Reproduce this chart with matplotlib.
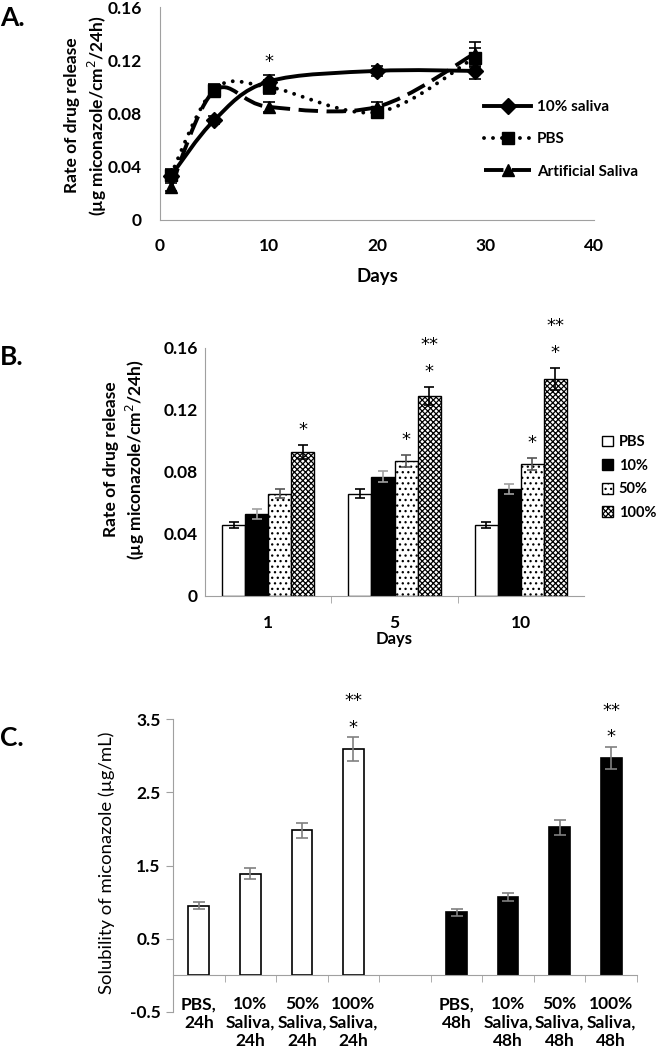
import matplotlib
matplotlib.use("Agg")
import matplotlib.pyplot as plt
import numpy as np
from matplotlib.path import Path
from matplotlib.patches import PathPatch
from matplotlib.lines import Line2D

plt.rcParams['font.family'] = ['Lato', 'DejaVu Sans']
plt.rcParams['hatch.linewidth'] = 0.9

# ---- panel A : release rate vs days ----
days_a = [1, 5, 10, 20, 29]
sal10_a = [0.033, 0.075, 0.104, 0.112, 0.112]
sal10_a_err = [0.003, 0.003, 0.005, 0.004, 0.006]
pbs_a = [0.034, 0.098, 0.100, 0.081, 0.122]
pbs_a_err = [0.004, 0.004, 0.005, 0.004, 0.007]
art_a = [0.025, 0.097, 0.085, 0.085, 0.125]
art_a_err = [0.003, 0.004, 0.004, 0.004, 0.009]
a_yticks = [0, 0.04, 0.08, 0.12, 0.16]
a_yticklabels = ["0", "0.04", "0.08", "0.12", "0.16"]
a_xticks = [0, 10, 20, 30, 40]

# ---- panel B : release rate per saliva level ----
b_days = ["1", "5", "10"]
b_groups = ["PBS", "10%", "50%", "100%"]
b_vals = [[0.046, 0.066, 0.046],
          [0.053, 0.077, 0.069],
          [0.066, 0.087, 0.085],
          [0.093, 0.129, 0.140]]
b_errs = [[0.002, 0.003, 0.002],
          [0.003, 0.0035, 0.003],
          [0.003, 0.004, 0.004],
          [0.0045, 0.006, 0.007]]
# significance marks: (group, day, text)
b_marks = [(3, 0, "*"), (2, 1, "*"), (3, 1, "*"), (3, 1, "**"),
           (2, 2, "*"), (3, 2, "*"), (3, 2, "**")]

# ---- panel C : solubility ----
c_labels = ["PBS,\n24h", "10%\nSaliva,\n24h", "50%\nSaliva,\n24h", "100%\nSaliva,\n24h", "",
            "PBS,\n48h", "10%\nSaliva,\n48h", "50%\nSaliva,\n48h", "100%\nSaliva,\n48h"]
c_24h = [0.95, 1.39, 1.98, 3.09]
c_24h_err = [0.05, 0.07, 0.10, 0.16]
c_48h = [0.86, 1.07, 2.02, 2.97]
c_48h_err = [0.05, 0.06, 0.10, 0.15]
c_yticks = [-0.5, 0.5, 1.5, 2.5, 3.5]
c_yticklabels = ["-0.5", "0.5", "1.5", "2.5", "3.5"]

GREY = "#a0a0a0"
STAR = dict(family="DejaVu Sans", fontsize=13, ha="center", va="center")


def smooth_line(ax, x, y, **kw):
    # Excel style smoothed line: cubic bezier segments through the points
    x = np.asarray(x, float)
    y = np.asarray(y, float)
    px = np.r_[x[0], x, x[-1]]
    py = np.r_[y[0], y, y[-1]]
    verts = [(x[0], y[0])]
    codes = [Path.MOVETO]
    for i in range(len(x) - 1):
        c1 = (x[i] + (px[i + 2] - px[i]) / 6, y[i] + (py[i + 2] - py[i]) / 6)
        c2 = (x[i + 1] - (px[i + 3] - px[i + 1]) / 6, y[i + 1] - (py[i + 3] - py[i + 1]) / 6)
        verts += [c1, c2, (x[i + 1], y[i + 1])]
        codes += [Path.CURVE4] * 3
    ax.add_patch(PathPatch(Path(verts, codes), fill=False, **kw))


def grey_axes(ax):
    for s in ["top", "right"]:
        ax.spines[s].set_visible(False)
    for s in ["left", "bottom"]:
        ax.spines[s].set_color(GREY)
    for t in ax.get_xticklabels() + ax.get_yticklabels():
        t.set_fontweight("bold")


fig = plt.figure(figsize=(6.56, 10.5), dpi=100)

# ================= A =================
axA = fig.add_axes([160 / 656, 1 - 220 / 1050, 434 / 656, 213 / 1050])
series = [(sal10_a, sal10_a_err, "D", "-", "round", "10% saliva", 8),
          (pbs_a, pbs_a_err, "s", (0, (0.01, 2.3)), "round", "PBS", 9),
          (art_a, art_a_err, "^", (0, (5, 2.2)), "butt", "Artificial Saliva", 9)]
handles = []
for vals, errs, mk, ls, cap, lab, ms in series:
    smooth_line(axA, days_a, vals, color="black", lw=2.8, linestyle=ls, capstyle=cap)
    axA.errorbar(days_a, vals, yerr=errs, fmt="none", ecolor="black",
                 elinewidth=1.2, capsize=4, capthick=1.2)
    axA.plot(days_a, vals, linestyle="none", marker=mk, ms=ms, color="black")
    handles.append(Line2D([], [], color="black", lw=2.8, linestyle=ls,
                          marker=mk, ms=ms, dash_capstyle=cap))
axA.text(days_a[2], 0.1185, "*", **STAR)
axA.set_xlim(0, 40)
axA.set_ylim(0, 0.16)
axA.set_xticks(a_xticks)
axA.set_yticks(a_yticks)
axA.set_yticklabels(a_yticklabels)
axA.tick_params(length=0, labelsize=12.5, pad=13)
grey_axes(axA)
axA.set_xlabel("Days", fontsize=13.5, fontweight="bold")
axA.xaxis.set_label_coords(0.5, -0.225)
axA.set_ylabel("Rate of drug release\n(µg miconazole/cm$^{2}$/24h)", fontsize=12.5,
               fontweight="bold", linespacing=1.3)
axA.yaxis.set_label_coords(-0.118, 0.49)
leg = axA.legend(handles, [s[5] for s in series], loc="upper left",
                 bbox_to_anchor=(484 / 656, 1 - 100 / 1050), bbox_transform=fig.transFigure,
                 frameon=False, fontsize=11, handlelength=3.1, handletextpad=0.35,
                 labelspacing=1.2, borderpad=0, borderaxespad=0)
for t in leg.get_texts():
    t.set_fontweight("bold")
fig.text(0.0, 1 - 18 / 1050, "A.", fontsize=19, fontweight="bold", va="center")

# ================= B =================
axB = fig.add_axes([205 / 656, 1 - 596 / 1050, 379 / 656, 248 / 1050])
xb = np.arange(len(b_days))
bw = 0.1825
b_faces = ["white", "black", "white", "white"]
b_hatch = [None, None, "...", "xxxxxx"]
b_ecol = ["black", GREY, "#555555", "black"]
bar_tops = {}
for g in range(4):
    pos = xb + (g - 1.5) * bw
    axB.bar(pos, b_vals[g], width=bw, color=b_faces[g], edgecolor="black",
            linewidth=1.0, hatch=b_hatch[g], label=b_groups[g])
    axB.errorbar(pos, b_vals[g], yerr=b_errs[g], fmt="none", ecolor=b_ecol[g],
                 elinewidth=1.2, capsize=3.5, capthick=1.2)
    for d in range(3):
        bar_tops[(g, d)] = (pos[d], b_vals[g][d] + b_errs[g][d])
for g, d, txt in b_marks:
    x0, top = bar_tops[(g, d)]
    yy = top + 0.0095 if txt == "*" else top + 0.027
    axB.text(x0, yy, txt, clip_on=False, **STAR)
axB.set_xlim(-0.5, 2.5)
axB.set_ylim(0, 0.16)
axB.set_xticks(xb)
axB.set_xticklabels(b_days)
axB.set_xticks([0.5, 1.5], minor=True)
axB.set_yticks(a_yticks)
axB.set_yticklabels(a_yticklabels)
axB.tick_params(axis="x", which="major", length=0, labelsize=12.5, pad=14)
axB.tick_params(axis="x", which="minor", length=5, color=GREY, direction="out")
axB.tick_params(axis="y", length=0, labelsize=12.5, pad=5)
grey_axes(axB)
axB.set_xlabel("Days", fontsize=12, fontweight="bold")
axB.xaxis.set_label_coords(0.5, -0.14)
axB.set_ylabel("Rate of drug release\n(µg miconazole/cm$^{2}$/24h)", fontsize=12.5,
               fontweight="bold", linespacing=1.3)
axB.yaxis.set_label_coords(-0.152, 0.55)
legB = axB.legend(loc="upper left", bbox_to_anchor=(602 / 656, 1 - 435 / 1050),
                  bbox_transform=fig.transFigure, frameon=False, fontsize=10.5,
                  handlelength=0.75, handleheight=0.75, handletextpad=0.4,
                  labelspacing=0.66, borderpad=0, borderaxespad=0)
for t in legB.get_texts():
    t.set_fontweight("bold")
fig.text(0.0, 1 - 357 / 1050, "B.", fontsize=19, fontweight="bold", va="center")

# ================= C =================
axC = fig.add_axes([173 / 656, 1 - 1012 / 1050, 464 / 656, 293 / 1050])
xc = np.arange(len(c_labels))
cw = 0.4
pos24 = xc[:4]
pos48 = xc[5:]
axC.bar(pos24, c_24h, width=cw, color="white", edgecolor="black", linewidth=1.2)
axC.bar(pos48, c_48h, width=cw, color="black", edgecolor="black", linewidth=1.2)
axC.errorbar(pos24, c_24h, yerr=c_24h_err, fmt="none", ecolor="#808080",
             elinewidth=1.2, capsize=4, capthick=1.2)
axC.errorbar(pos48, c_48h, yerr=c_48h_err, fmt="none", ecolor="#808080",
             elinewidth=1.2, capsize=4, capthick=1.2)
for p, v, e in [(pos24[-1], c_24h[-1], c_24h_err[-1]), (pos48[-1], c_48h[-1], c_48h_err[-1])]:
    axC.text(p, v + e + 0.13, "*", **STAR)
    axC.text(p, v + e + 0.49, "**", **STAR)
axC.set_xlim(-0.5, 8.5)
axC.set_ylim(-0.5, 3.5)
axC.set_yticks(c_yticks)
axC.set_yticklabels(c_yticklabels)
axC.set_xticks(xc)
axC.set_xticklabels(c_labels, linespacing=1.25, va="top")
axC.set_xticks(np.arange(-0.5, 9, 1), minor=True)
axC.spines["bottom"].set_position(("data", 0))
axC.tick_params(axis="x", which="major", length=0, labelsize=12.5, pad=15)
axC.tick_params(axis="x", which="minor", length=5, color=GREY, direction="out")
axC.tick_params(axis="y", length=5, color=GREY, labelsize=12.5, pad=4)
grey_axes(axC)
axC.set_ylabel("Solubility of miconazole (µg/mL)", fontsize=13.3)
axC.yaxis.set_label_coords(-0.125, 0.508)
fig.text(0.0, 1 - 738 / 1050, "C.", fontsize=19, fontweight="bold", va="center")

fig.savefig("out.png", dpi=100)
